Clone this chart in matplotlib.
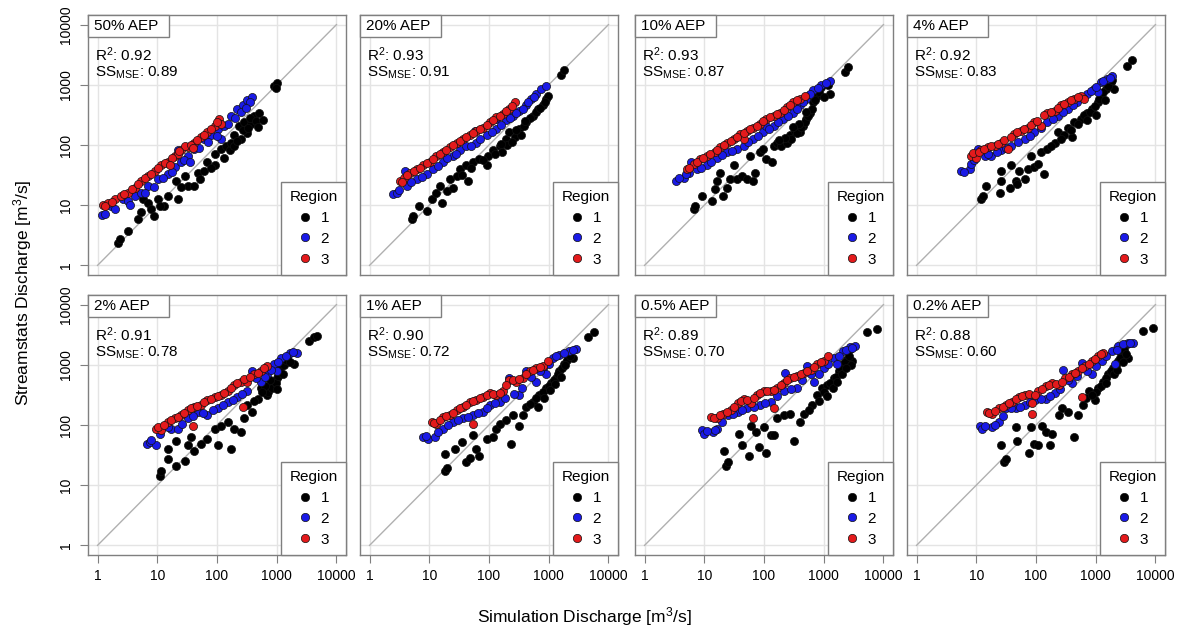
import matplotlib
matplotlib.use("Agg")
import matplotlib.pyplot as plt
from matplotlib.patches import Rectangle
from matplotlib.lines import Line2D
import numpy as np

plt.rcParams['font.family'] = ['Liberation Sans', 'DejaVu Sans']
plt.rcParams['mathtext.fontset'] = 'custom'
plt.rcParams['mathtext.rm'] = 'Liberation Sans'
plt.rcParams['mathtext.it'] = 'Liberation Sans'

aep = ["50% AEP", "20% AEP", "10% AEP", "4% AEP",
       "2% AEP", "1% AEP", "0.5% AEP", "0.2% AEP"]
r2 = [0.92, 0.93, 0.93, 0.92, 0.91, 0.90, 0.89, 0.88]
ss_mse = [0.89, 0.91, 0.87, 0.83, 0.78, 0.72, 0.70, 0.60]
ticks = [1, 10, 100, 1000, 10000]
tick_labels = ["1", "10", "100", "1000", "10000"]

# (log10 simulation discharge, log10 streamstats discharge), one list per AEP
region1_pts = [
    [(0.34, 0.38), (0.37, 0.43), (0.51, 0.57), (0.68, 0.77), (0.73, 0.88), (0.76, 1.10),
     (0.84, 1.04), (0.90, 0.93), (1.01, 1.10), (1.12, 0.99), (1.18, 1.16), (1.32, 1.41),
     (1.34, 1.10), (1.46, 1.49), (1.51, 1.32), (1.62, 1.32), (1.68, 1.54), (1.79, 1.57),
     (1.84, 1.71), (1.96, 1.85), (1.96, 1.66), (2.07, 1.93), (2.15, 1.99), (2.21, 1.91),
     (2.23, 2.04), (2.29, 2.16), (2.29, 1.99), (2.37, 2.32), (2.40, 2.10), (2.46, 2.38),
     (2.57, 2.35), (2.62, 2.49), (2.71, 2.54), (2.96, 2.98), (3.00, 3.03), (2.98, 2.94),
     (2.50, 2.20), (2.55, 2.45), (2.65, 2.40), (2.68, 2.30), (2.44, 2.25), (2.34, 2.06),
     (2.12, 1.78), (1.90, 1.62), (1.72, 1.44), (1.40, 1.30), (1.05, 0.98), (0.95, 0.82),
     (2.77, 2.42), (2.52, 2.28)],
    [(0.71, 0.77), (0.73, 0.82), (0.82, 0.99), (0.96, 0.91), (1.04, 1.10), (1.12, 1.21),
     (1.18, 1.32), (1.21, 1.04), (1.29, 1.24), (1.34, 1.43), (1.40, 1.29), (1.46, 1.49),
     (1.51, 1.60), (1.65, 1.41), (1.62, 1.66), (1.73, 1.71), (1.84, 1.77), (1.96, 1.66),
     (1.98, 1.82), (2.07, 1.91), (2.18, 1.99), (2.21, 1.88), (2.29, 2.10), (2.34, 2.21),
     (2.43, 2.13), (2.51, 2.27), (2.54, 2.16), (2.62, 2.38), (2.73, 2.49), (2.82, 2.60),
     (2.90, 2.66), (2.96, 2.77), (2.98, 2.82), (3.21, 3.16), (3.26, 3.24),
     (2.30, 2.00), (2.38, 2.05), (2.46, 2.25), (2.58, 2.32), (2.68, 2.45), (2.78, 2.55),
     (2.86, 2.62), (2.60, 2.40), (2.20, 2.02), (2.10, 1.85), (1.90, 1.75), (1.55, 1.50),
     (1.70, 1.62), (2.93, 2.72)],
    [(0.82, 0.93), (0.85, 0.99), (0.96, 1.16), (1.13, 1.07), (1.18, 1.27), (1.21, 1.41),
     (1.27, 1.54), (1.32, 1.16), (1.38, 1.29), (1.43, 1.43), (1.49, 1.66), (1.54, 1.43),
     (1.63, 1.49), (1.71, 1.43), (1.82, 1.41), (1.85, 1.54), (1.77, 1.82), (1.93, 1.88),
     (1.99, 1.93), (2.04, 1.77), (2.13, 1.71), (2.16, 1.99), (2.21, 2.04), (2.29, 1.99),
     (2.38, 2.04), (2.43, 2.16), (2.52, 2.24), (2.60, 2.21), (2.66, 2.32), (2.71, 2.43),
     (2.77, 2.54), (2.82, 2.71), (2.88, 2.82), (2.96, 2.96), (3.10, 2.85), (3.07, 2.99),
     (3.35, 3.21), (3.41, 3.29),
     (2.45, 2.10), (2.55, 2.20), (2.62, 2.30), (2.68, 2.38), (2.74, 2.48), (2.80, 2.60),
     (2.85, 2.75), (2.92, 2.88), (2.58, 2.35), (2.35, 2.12), (2.48, 2.30), (2.25, 2.08),
     (3.00, 2.80), (2.70, 2.55)],
    [(1.08, 1.10), (1.11, 1.16), (1.17, 1.32), (1.39, 1.21), (1.42, 1.41), (1.42, 1.57),
     (1.56, 1.29), (1.58, 1.66), (1.67, 1.41), (1.69, 1.35), (1.72, 1.57), (1.81, 1.43),
     (1.86, 1.60), (1.92, 1.82), (1.97, 1.63), (2.03, 1.68), (2.14, 1.52), (2.08, 1.88),
     (2.19, 1.93), (2.31, 2.04), (2.36, 2.21), (2.47, 2.16), (2.53, 2.29), (2.61, 2.13),
     (2.64, 2.38), (2.75, 2.43), (2.86, 2.54), (2.94, 2.60), (3.03, 2.71), (3.08, 2.82),
     (3.17, 2.93), (3.25, 3.04), (3.31, 2.93), (3.53, 3.32), (3.61, 3.41),
     (2.70, 2.35), (2.80, 2.50), (2.90, 2.55), (2.98, 2.65), (3.05, 2.76), (3.12, 2.88),
     (3.20, 2.98), (3.28, 3.08), (2.85, 2.42), (2.58, 2.25), (2.42, 2.10), (2.25, 1.98),
     (3.00, 2.50), (3.15, 2.75)],
    [(1.04, 1.15), (1.07, 1.24), (1.18, 1.43), (1.18, 1.60), (1.32, 1.74), (1.32, 1.32),
     (1.46, 1.40), (1.51, 1.66), (1.57, 1.80), (1.62, 1.57), (1.73, 1.69), (1.84, 1.77),
     (1.96, 1.94), (2.01, 1.66), (2.07, 1.99), (2.18, 2.05), (2.23, 1.60), (2.29, 1.94),
     (2.40, 1.88), (2.46, 2.11), (2.51, 2.33), (2.59, 2.22), (2.68, 2.44), (2.73, 2.61),
     (2.84, 2.50), (2.90, 2.67), (2.96, 2.72), (3.01, 2.78), (3.04, 2.89), (3.09, 3.06),
     (3.18, 3.12), (3.29, 3.01), (3.54, 3.40), (3.62, 3.46), (3.68, 3.48),
     (2.85, 2.55), (2.92, 2.62), (2.98, 2.70), (3.02, 2.82), (3.06, 2.95), (3.12, 3.00),
     (3.15, 3.08), (3.22, 3.05), (2.88, 2.75), (2.80, 2.65), (3.00, 2.60), (3.10, 2.85),
     (2.62, 2.40), (2.75, 2.55)],
    [(1.26, 1.24), (1.29, 1.29), (1.26, 1.52), (1.43, 1.60), (1.54, 1.71), (1.62, 1.38),
     (1.68, 1.46), (1.73, 1.83), (1.79, 1.60), (1.84, 1.49), (1.96, 1.77), (2.07, 1.80),
     (2.12, 1.94), (2.18, 2.02), (2.29, 2.08), (2.37, 1.69), (2.40, 2.16), (2.51, 1.99),
     (2.57, 2.16), (2.62, 2.30), (2.73, 2.39), (2.82, 2.30), (2.84, 2.50), (2.96, 2.61),
     (3.04, 2.70), (3.12, 2.78), (3.18, 2.89), (3.26, 3.01), (3.34, 3.17), (3.40, 3.12),
     (3.65, 3.46), (3.76, 3.54),
     (2.90, 2.55), (3.00, 2.65), (3.08, 2.74), (3.15, 2.84), (3.22, 2.95), (3.30, 3.08),
     (3.36, 3.14), (3.02, 2.58), (2.92, 2.45), (2.78, 2.45), (3.10, 2.68), (3.20, 2.80),
     (2.68, 2.35), (3.28, 3.00)],
    [(1.36, 1.32), (1.39, 1.38), (1.33, 1.57), (1.58, 1.85), (1.64, 1.66), (1.75, 1.49),
     (1.78, 1.99), (1.86, 1.88), (1.92, 1.63), (2.00, 1.97), (2.03, 1.54), (2.11, 1.83),
     (2.17, 1.83), (2.22, 2.11), (2.33, 2.16), (2.44, 2.19), (2.50, 1.74), (2.61, 2.05),
     (2.67, 2.19), (2.81, 2.33), (2.89, 2.50), (2.97, 2.61), (3.06, 2.67), (3.17, 2.78),
     (3.25, 2.89), (3.33, 3.01), (3.39, 3.09), (3.44, 3.26), (3.47, 3.06), (3.72, 3.54),
     (3.89, 3.60),
     (3.00, 2.55), (3.10, 2.70), (3.20, 2.80), (3.28, 2.95), (3.36, 3.05), (3.42, 3.15),
     (3.45, 3.00), (3.30, 2.85), (3.15, 2.62), (2.92, 2.40), (3.38, 2.95), (3.22, 2.72),
     (2.75, 2.25), (3.05, 2.48)],
    [(1.46, 1.38), (1.49, 1.43), (1.41, 1.66), (1.66, 1.97), (1.68, 1.74), (1.88, 1.54),
     (1.91, 1.97), (1.96, 1.69), (2.04, 1.66), (2.10, 1.99), (2.16, 1.88), (2.24, 1.66),
     (2.27, 1.85), (2.38, 2.16), (2.43, 2.28), (2.54, 2.22), (2.63, 1.80), (2.71, 2.16),
     (2.79, 2.33), (2.88, 2.56), (2.99, 2.42), (3.04, 2.61), (3.13, 2.72), (3.21, 2.84),
     (3.29, 2.95), (3.38, 3.06), (3.43, 3.20), (3.52, 3.34), (3.54, 3.12), (3.79, 3.57),
     (3.96, 3.62),
     (3.08, 2.65), (3.17, 2.78), (3.25, 2.90), (3.34, 3.00), (3.40, 3.12), (3.48, 3.25),
     (3.50, 3.18), (3.30, 2.85), (3.18, 2.70), (3.00, 2.55), (3.45, 3.05), (3.36, 2.92),
     (2.84, 2.45), (2.93, 2.50)],
]

region2_pts = [
    [(0.07, 0.83), (0.12, 0.85), (0.23, 0.99), (0.29, 0.93), (0.43, 1.10), (0.51, 1.07),
     (0.62, 1.16), (0.73, 1.21), (0.84, 1.32), (1.01, 1.43), (1.18, 1.52), (1.29, 1.63),
     (1.34, 1.91), (1.40, 1.72), (1.51, 1.82), (1.62, 1.93), (1.79, 2.10), (1.90, 2.16),
     (2.01, 2.27), (2.12, 2.32), (2.23, 2.49), (2.34, 2.60), (2.43, 2.66), (2.51, 2.74),
     (2.59, 2.79), (2.56, 2.71), (2.07, 2.10),
     (0.55, 1.00), (0.80, 1.20), (0.95, 1.30), (1.10, 1.45), (1.25, 1.55), (1.45, 1.75),
     (1.70, 1.95), (1.85, 2.05), (2.00, 2.15), (2.18, 2.35), (2.30, 2.45), (2.40, 2.55),
     (2.48, 2.62), (1.55, 1.72)],
    [(0.40, 1.18), (0.46, 1.21), (0.59, 1.57), (0.62, 1.32), (0.79, 1.43), (0.96, 1.52),
     (1.07, 1.60), (1.23, 1.71), (1.40, 1.82), (1.51, 1.91), (1.62, 1.99), (1.76, 2.24),
     (1.79, 2.04), (1.96, 2.16), (2.12, 2.27), (2.29, 2.41), (2.40, 2.49), (2.51, 2.57),
     (2.62, 2.66), (2.71, 2.77), (2.79, 2.85), (2.87, 2.93), (2.96, 2.98), (2.12, 2.43),
     (0.50, 1.25), (0.70, 1.38), (0.88, 1.47), (1.15, 1.65), (1.30, 1.78), (1.45, 1.85),
     (1.70, 1.98), (1.85, 2.10), (2.05, 2.22), (2.20, 2.33), (2.35, 2.45), (2.45, 2.53),
     (2.57, 2.60), (2.66, 2.72), (2.75, 2.80)],
    [(0.52, 1.41), (0.66, 1.46), (0.74, 1.54), (0.77, 1.71), (0.88, 1.60), (1.04, 1.66),
     (1.21, 1.79), (1.38, 1.88), (1.54, 1.93), (1.66, 1.99), (1.82, 2.10), (1.99, 2.21),
     (2.16, 2.32), (2.32, 2.43), (2.49, 2.54), (2.60, 2.66), (2.71, 2.77), (2.82, 2.91),
     (2.96, 2.99), (3.10, 3.06), (2.04, 2.32),
     (0.58, 1.45), (0.70, 1.52), (0.95, 1.62), (1.12, 1.72), (1.30, 1.84), (1.46, 1.90),
     (1.74, 2.05), (1.90, 2.15), (2.08, 2.26), (2.24, 2.38), (2.40, 2.48), (2.55, 2.60),
     (2.66, 2.72), (2.77, 2.84), (2.90, 2.95), (3.03, 3.03)],
    [(0.75, 1.57), (0.89, 1.60), (0.92, 1.68), (1.03, 1.93), (1.14, 1.82), (1.25, 1.82),
     (1.42, 1.91), (1.58, 1.99), (1.81, 2.10), (1.97, 2.21), (2.19, 2.38), (2.36, 2.49),
     (2.53, 2.60), (2.69, 2.71), (2.86, 2.85), (2.97, 2.93), (3.08, 3.04), (3.19, 3.10),
     (3.28, 3.14), (3.03, 2.88),
     (0.80, 1.55), (0.97, 1.75), (1.20, 1.85), (1.35, 1.88), (1.50, 1.95), (1.70, 2.05),
     (1.90, 2.15), (2.08, 2.28), (2.28, 2.44), (2.45, 2.55), (2.62, 2.66), (2.78, 2.78),
     (2.92, 2.90), (3.13, 3.07), (3.24, 3.12), (3.00, 2.96)],
    [(0.82, 1.69), (0.87, 1.71), (0.98, 1.66), (1.12, 1.99), (1.23, 1.94), (1.34, 1.94),
     (1.51, 2.11), (1.68, 2.22), (1.84, 2.16), (2.01, 2.28), (2.18, 2.39), (2.34, 2.47),
     (2.51, 2.56), (2.59, 2.89), (2.73, 2.72), (2.84, 2.84), (2.96, 3.01), (3.07, 3.12),
     (3.23, 3.20), (3.34, 3.20), (3.01, 2.89),
     (0.90, 1.75), (1.05, 1.85), (1.18, 1.97), (1.42, 2.02), (1.60, 2.15), (1.76, 2.20),
     (1.93, 2.25), (2.10, 2.34), (2.26, 2.42), (2.42, 2.52), (2.65, 2.78), (2.80, 2.80),
     (2.90, 2.92), (3.02, 3.05), (3.15, 3.15), (3.28, 3.22)],
    [(0.90, 1.80), (0.98, 1.77), (1.09, 1.80), (1.23, 1.94), (1.40, 2.05), (1.57, 2.11),
     (1.73, 2.16), (1.90, 2.22), (2.01, 2.33), (2.18, 2.39), (2.34, 2.78), (2.51, 2.50),
     (2.62, 2.89), (2.79, 2.72), (2.90, 2.95), (3.07, 3.12), (3.18, 3.17), (3.34, 3.23),
     (3.46, 3.26), (2.96, 2.84),
     (0.95, 1.82), (1.15, 1.88), (1.32, 2.00), (1.48, 2.08), (1.65, 2.14), (1.82, 2.20),
     (1.96, 2.28), (2.10, 2.36), (2.26, 2.45), (2.42, 2.52), (2.56, 2.62), (2.70, 2.80),
     (2.85, 2.90), (3.00, 3.02), (3.12, 3.15), (3.26, 3.20), (3.40, 3.24)],
    [(0.97, 1.91), (1.00, 1.85), (1.14, 1.88), (1.22, 1.94), (1.39, 2.16), (1.56, 2.22),
     (1.72, 2.28), (1.94, 2.33), (2.11, 2.39), (2.36, 2.87), (2.33, 2.56), (2.56, 2.61),
     (2.72, 2.98), (2.83, 2.72), (3.00, 2.95), (3.17, 3.12), (3.33, 3.23), (3.44, 3.29),
     (3.53, 3.31), (3.22, 3.01),
     (1.05, 1.90), (1.18, 1.91), (1.30, 2.05), (1.48, 2.18), (1.64, 2.25), (1.83, 2.30),
     (2.02, 2.36), (2.22, 2.48), (2.45, 2.60), (2.64, 2.75), (2.78, 2.85), (2.92, 2.85),
     (3.08, 3.02), (3.25, 3.15), (3.38, 3.25), (3.48, 3.28)],
    [(1.07, 1.99), (1.10, 1.94), (1.27, 1.97), (1.38, 2.05), (1.49, 2.28), (1.66, 2.28),
     (1.82, 2.33), (1.99, 2.42), (2.16, 2.44), (2.32, 2.53), (2.46, 2.92), (2.60, 2.70),
     (2.77, 3.03), (2.93, 2.84), (3.10, 3.06), (3.27, 3.23), (3.38, 3.31), (3.54, 3.37),
     (3.63, 3.37), (3.32, 3.01),
     (1.15, 1.98), (1.32, 2.00), (1.44, 2.15), (1.58, 2.28), (1.74, 2.30), (1.90, 2.38),
     (2.08, 2.43), (2.24, 2.48), (2.40, 2.60), (2.53, 2.75), (2.68, 2.82), (2.85, 2.90),
     (3.00, 2.98), (3.18, 3.14), (3.35, 3.25), (3.46, 3.34), (3.58, 3.36)],
]

region3_pts = [
    [(0.09, 1.00), (0.18, 1.04), (0.29, 1.10), (0.40, 1.16), (0.51, 1.21), (0.62, 1.29),
     (0.73, 1.41), (0.84, 1.49), (0.96, 1.57), (1.07, 1.66), (1.18, 1.71), (1.29, 1.82),
     (1.40, 1.91), (1.51, 1.96), (1.62, 2.04), (1.73, 2.13), (1.84, 2.21), (1.96, 2.32),
     (2.04, 2.43), (2.07, 2.35), (1.34, 1.85), (1.46, 1.99),
     (0.12, 0.98), (0.25, 1.06), (0.45, 1.18), (0.57, 1.27), (0.68, 1.35), (0.80, 1.45),
     (0.90, 1.52), (1.02, 1.62), (1.13, 1.70), (1.24, 1.78), (1.36, 1.90), (1.56, 2.00),
     (1.67, 2.08), (1.79, 2.17), (1.90, 2.26), (2.00, 2.38), (1.22, 1.66), (1.60, 1.95)],
    [(0.51, 1.41), (0.57, 1.46), (0.68, 1.54), (0.79, 1.60), (0.90, 1.66), (1.01, 1.71),
     (1.12, 1.82), (1.23, 1.88), (1.34, 1.96), (1.46, 2.04), (1.57, 2.10), (1.68, 2.16),
     (1.79, 2.24), (1.90, 2.29), (2.01, 2.38), (2.12, 2.46), (2.23, 2.52), (2.34, 2.60),
     (2.43, 2.71),
     (0.55, 1.38), (0.62, 1.50), (0.74, 1.56), (0.85, 1.62), (0.96, 1.70), (1.06, 1.76),
     (1.18, 1.85), (1.28, 1.92), (1.40, 2.00), (1.52, 2.07), (1.62, 2.13), (1.74, 2.20),
     (1.85, 2.27), (1.96, 2.33), (2.06, 2.42), (2.18, 2.49), (2.28, 2.56), (2.38, 2.65)],
    [(0.71, 1.60), (0.82, 1.68), (0.93, 1.77), (1.04, 1.82), (1.18, 1.88), (1.27, 1.96),
     (1.38, 2.04), (1.49, 2.10), (1.60, 2.18), (1.71, 2.24), (1.82, 2.29), (1.93, 2.35),
     (2.04, 2.43), (2.16, 2.49), (2.27, 2.54), (2.38, 2.63), (2.49, 2.71), (2.60, 2.77),
     (2.68, 2.82), (1.66, 2.10),
     (0.75, 1.62), (0.87, 1.72), (0.98, 1.78), (1.10, 1.85), (1.22, 1.92), (1.33, 2.00),
     (1.44, 2.07), (1.55, 2.14), (1.66, 2.20), (1.77, 2.27), (1.88, 2.32), (1.99, 2.40),
     (2.10, 2.46), (2.22, 2.52), (2.33, 2.58), (2.44, 2.67), (2.55, 2.74)],
    [(0.92, 1.82), (1.00, 1.79), (1.08, 1.91), (1.19, 1.96), (1.31, 1.99), (1.42, 2.04),
     (1.53, 1.93), (1.64, 2.18), (1.75, 2.24), (1.86, 2.29), (1.97, 2.38), (2.08, 2.32),
     (2.19, 2.54), (2.31, 2.57), (2.42, 2.66), (2.53, 2.71), (2.64, 2.77), (2.75, 2.82),
     (2.81, 2.77),
     (0.95, 1.86), (1.04, 1.88), (1.13, 1.93), (1.25, 1.98), (1.36, 2.02), (1.47, 2.08),
     (1.58, 2.14), (1.69, 2.21), (1.80, 2.27), (1.91, 2.33), (2.02, 2.40), (2.13, 2.50),
     (2.25, 2.55), (2.36, 2.62), (2.47, 2.68), (2.58, 2.74), (2.70, 2.80)],
    [(0.98, 1.94), (1.07, 1.91), (1.18, 2.05), (1.29, 2.11), (1.40, 2.16), (1.51, 2.25),
     (1.62, 2.30), (1.73, 2.33), (1.84, 2.42), (1.96, 2.47), (2.07, 2.50), (2.18, 2.56),
     (2.29, 2.67), (2.40, 2.72), (2.51, 2.72), (2.62, 2.84), (2.73, 2.89), (2.84, 2.98),
     (1.59, 1.99), (2.43, 2.30),
     (1.02, 1.96), (1.12, 2.00), (1.23, 2.08), (1.34, 2.14), (1.45, 2.20), (1.56, 2.28),
     (1.67, 2.32), (1.78, 2.38), (1.90, 2.44), (2.01, 2.48), (2.12, 2.53), (2.23, 2.62),
     (2.34, 2.70), (2.45, 2.76), (2.56, 2.80), (2.68, 2.86), (2.78, 2.94)],
    [(1.04, 2.05), (1.12, 2.02), (1.23, 2.13), (1.34, 2.16), (1.46, 2.25), (1.57, 2.30),
     (1.68, 2.39), (1.79, 2.42), (1.90, 2.47), (2.01, 2.53), (2.12, 2.50), (2.23, 2.56),
     (2.34, 2.75), (2.46, 2.72), (2.57, 2.78), (2.68, 2.89), (2.79, 2.95), (2.90, 2.98),
     (2.98, 3.06), (1.73, 2.02),
     (1.08, 2.04), (1.18, 2.08), (1.28, 2.15), (1.40, 2.20), (1.52, 2.28), (1.62, 2.34),
     (1.74, 2.40), (1.85, 2.45), (1.96, 2.50), (2.07, 2.52), (2.18, 2.54), (2.29, 2.66),
     (2.40, 2.74), (2.51, 2.76), (2.62, 2.84), (2.74, 2.92), (2.85, 2.96)],
    [(1.11, 2.13), (1.22, 2.11), (1.31, 2.19), (1.44, 2.25), (1.56, 2.36), (1.67, 2.44),
     (1.78, 2.36), (1.89, 2.50), (2.00, 2.56), (2.11, 2.56), (2.22, 2.61), (2.33, 2.70),
     (2.44, 2.78), (2.56, 2.81), (2.67, 2.87), (2.78, 2.92), (2.89, 3.01), (3.00, 3.06),
     (3.08, 3.15), (1.81, 2.11), (2.17, 2.28),
     (1.16, 2.12), (1.26, 2.16), (1.38, 2.22), (1.50, 2.30), (1.62, 2.40), (1.72, 2.42),
     (1.84, 2.45), (1.94, 2.53), (2.05, 2.56), (2.16, 2.58), (2.28, 2.66), (2.38, 2.74),
     (2.50, 2.80), (2.62, 2.84), (2.72, 2.90), (2.84, 2.96), (2.95, 3.04)],
    [(1.18, 2.22), (1.27, 2.19), (1.38, 2.28), (1.49, 2.33), (1.60, 2.39), (1.71, 2.47),
     (1.82, 2.50), (1.93, 2.36), (2.04, 2.56), (2.16, 2.64), (2.27, 2.70), (2.38, 2.67),
     (2.49, 2.78), (2.60, 2.84), (2.71, 2.89), (2.82, 2.98), (2.93, 3.06), (3.04, 3.15),
     (3.13, 3.20), (1.93, 2.19), (2.77, 2.47),
     (1.22, 2.20), (1.32, 2.24), (1.44, 2.30), (1.55, 2.36), (1.66, 2.43), (1.77, 2.48),
     (1.88, 2.52), (1.99, 2.50), (2.10, 2.60), (2.22, 2.67), (2.33, 2.68), (2.44, 2.72),
     (2.55, 2.80), (2.66, 2.86), (2.77, 2.94), (2.88, 3.02), (2.98, 3.10), (3.08, 3.18)],
]

regions = [region1_pts, region2_pts, region3_pts]
region_names = ["1", "2", "3"]
region_colors = ["#000000", "#1a1ae6", "#e31a1c"]

W, H = 1182, 634
fig = plt.figure(figsize=(W / 100, H / 100), dpi=100)

lefts = [88, 360, 635, 907]
tops = [15, 295]
pw, ph = 258, 260
lim = (10 ** -0.16, 10 ** 4.16)
frame_col = "#7f7f7f"

for i in range(8):
    row, col = divmod(i, 4)
    ax = fig.add_axes([lefts[col] / W, (H - tops[row] - ph) / H, pw / W, ph / H])
    ax.set_xscale("log")
    ax.set_yscale("log")
    ax.set_xlim(lim)
    ax.set_ylim(lim)
    ax.set_xticks(ticks)
    ax.set_yticks(ticks)
    ax.set_xticklabels(tick_labels)
    ax.set_yticklabels(tick_labels)
    ax.minorticks_off()
    ax.grid(True, color="#e4e4e4", lw=1)
    ax.set_axisbelow(True)
    for s in ax.spines.values():
        s.set_color(frame_col)
        s.set_linewidth(1)
    ax.tick_params(length=6, width=0.8, color=frame_col, labelsize=10, pad=4)
    ax.tick_params(axis="y", labelrotation=90, pad=5)
    for lab in ax.get_yticklabels():
        lab.set_va("center")
    if row == 0:
        ax.tick_params(axis="x", bottom=False, labelbottom=False)
    if col > 0:
        ax.tick_params(axis="y", left=False, labelleft=False)

    # 1:1 line
    ax.plot([1, 10000], [1, 10000], color="#b0b0b0", lw=1, zorder=1)

    for pts, c in zip(regions, region_colors):
        arr = np.array(pts[i])
        ax.scatter(10 ** arr[:, 0], 10 ** arr[:, 1], s=34, c=c,
                   edgecolors="#111111", linewidths=0.5, zorder=3)

    # AEP tag in the upper-left corner
    ax.add_patch(Rectangle((0, 1 - 22 / ph), 81 / pw, 22 / ph, transform=ax.transAxes,
                           facecolor="white", edgecolor=frame_col, lw=1, zorder=5,
                           clip_on=False))
    ax.text(6 / pw, 1 - 11 / ph, aep[i], transform=ax.transAxes, fontsize=11,
            va="center", ha="left", zorder=6)
    ax.text(7 / pw, 1 - 40 / ph, r"R$^2$: %.2f" % r2[i], transform=ax.transAxes,
            fontsize=11, va="center", ha="left", zorder=6)
    ax.text(7 / pw, 1 - 58 / ph, r"SS$_{\mathrm{MSE}}$: %.2f" % ss_mse[i],
            transform=ax.transAxes, fontsize=11, va="center", ha="left", zorder=6)

    handles = [Line2D([], [], ls="none", marker="o", ms=6, mfc=c, mec="#111111", mew=0.5)
               for c in region_colors]
    leg = ax.legend(handles, region_names, title="Region", loc="lower right",
                    borderaxespad=0, fontsize=11, title_fontsize=11, fancybox=False,
                    framealpha=1, edgecolor=frame_col, handlelength=0.9,
                    handletextpad=0.6, labelspacing=0.45, borderpad=0.55)
    leg.get_frame().set_linewidth(1)
    leg.set_zorder(7)

fig.text(584 / W, 1 - 617 / H, "Simulation Discharge [m$^3$/s]", fontsize=12.5,
         ha="center", va="center")
fig.text(23 / W, 1 - 293 / H, "Streamstats Discharge [m$^3$/s]", fontsize=12.5,
         ha="center", va="center", rotation=90)

fig.savefig("out.png", dpi=100)
